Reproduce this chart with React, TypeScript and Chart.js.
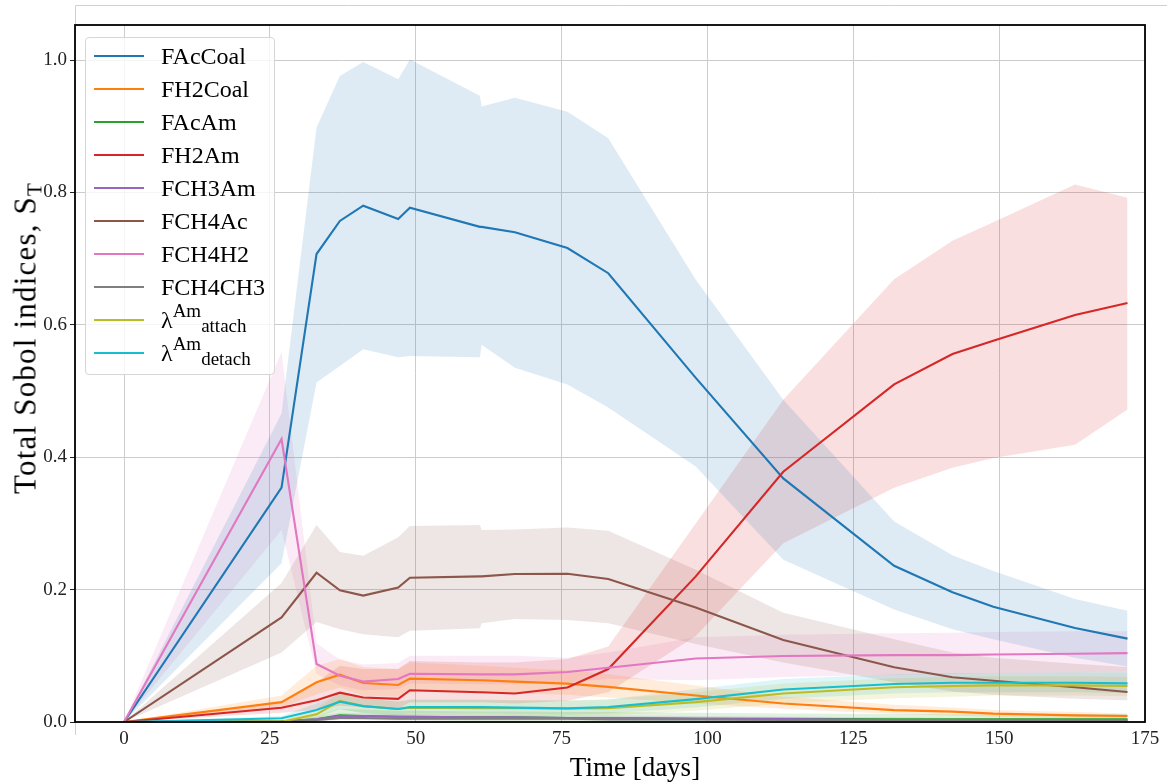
import React, { useEffect, useRef } from "react";
import { Chart, registerables } from "chart.js";

Chart.register(...registerables);

// ---- data ----
const days = [0, 27, 33, 37, 41, 47, 49, 61, 61.3, 67, 76, 83, 98, 113, 132, 142, 149, 163, 172];

const xTicks = [0, 25, 50, 75, 100, 125, 150, 175];
const yTicks = [0.0, 0.2, 0.4, 0.6, 0.8, 1.0];

const seriesNames = ["FAcCoal", "FH2Coal", "FAcAm", "FH2Am", "FCH3Am", "FCH4Ac", "FCH4H2", "FCH4CH3", "λ^Am_attach", "λ^Am_detach"];
const seriesColors = ["#1f77b4", "#ff7f0e", "#2ca02c", "#d62728", "#9467bd", "#8c564b", "#e377c2", "#7f7f7f", "#bcbd22", "#17becf"];

const fAcCoal = [0, 0.354, 0.707, 0.757, 0.780, 0.760, 0.777, 0.748, 0.748, 0.740, 0.716, 0.678, 0.520, 0.368, 0.236, 0.196, 0.174, 0.142, 0.126];
const fAcCoalHi = [0, 0.466, 0.898, 0.976, 0.997, 0.971, 1.001, 0.946, 0.930, 0.943, 0.922, 0.882, 0.668, 0.487, 0.303, 0.252, 0.228, 0.186, 0.168];
const fAcCoalLo = [0, 0.240, 0.513, 0.538, 0.563, 0.551, 0.553, 0.551, 0.570, 0.535, 0.510, 0.475, 0.386, 0.245, 0.170, 0.140, 0.125, 0.097, 0.084];

const fH2Coal = [0, 0.030, 0.060, 0.0715, 0.059, 0.056, 0.0655, 0.063, 0.063, 0.061, 0.058, 0.053, 0.040, 0.028, 0.018, 0.0156, 0.0126, 0.010, 0.009];
const fH2CoalHi = [0, 0.040, 0.085, 0.095, 0.083, 0.080, 0.090, 0.085, 0.085, 0.082, 0.078, 0.072, 0.055, 0.038, 0.026, 0.022, 0.018, 0.015, 0.013];
const fH2CoalLo = [0, 0.022, 0.042, 0.052, 0.040, 0.038, 0.046, 0.045, 0.045, 0.043, 0.041, 0.037, 0.028, 0.020, 0.012, 0.010, 0.008, 0.006, 0.006];

const fAcAm = [0, 0.001, 0.004, 0.010, 0.009, 0.008, 0.008, 0.007, 0.007, 0.007, 0.006, 0.006, 0.005, 0.005, 0.004, 0.004, 0.004, 0.004, 0.004];
const fAcAmHi = [0, 0.003, 0.010, 0.020, 0.019, 0.017, 0.017, 0.016, 0.016, 0.016, 0.015, 0.015, 0.014, 0.013, 0.012, 0.012, 0.012, 0.012, 0.012];
const fAcAmLo = [0, 0, 0.001, 0.004, 0.003, 0.003, 0.003, 0.002, 0.002, 0.002, 0.002, 0.002, 0.001, 0.001, 0.001, 0.001, 0.001, 0.001, 0.001];

const fH2Am = [0, 0.0216, 0.033, 0.0443, 0.037, 0.035, 0.048, 0.045, 0.045, 0.043, 0.052, 0.080, 0.220, 0.378, 0.510, 0.556, 0.576, 0.615, 0.633];
const fH2AmHi = [0, 0.030, 0.060, 0.085, 0.080, 0.080, 0.092, 0.090, 0.090, 0.090, 0.095, 0.114, 0.300, 0.487, 0.669, 0.727, 0.755, 0.812, 0.792];
const fH2AmLo = [0, 0.014, 0.018, 0.025, 0.022, 0.020, 0.030, 0.030, 0.030, 0.028, 0.032, 0.045, 0.130, 0.270, 0.354, 0.384, 0.399, 0.419, 0.472];

const fCH3Am = [0, 0.0005, 0.004, 0.009, 0.009, 0.008, 0.008, 0.007, 0.007, 0.007, 0.006, 0.006, 0.005, 0.0045, 0.003, 0.003, 0.0025, 0.002, 0.002];
const fCH3AmHi = [0, 0.002, 0.008, 0.014, 0.013, 0.012, 0.012, 0.011, 0.011, 0.011, 0.010, 0.010, 0.009, 0.008, 0.007, 0.006, 0.006, 0.005, 0.005];
const fCH3AmLo = [0, 0, 0.001, 0.005, 0.005, 0.004, 0.004, 0.004, 0.004, 0.004, 0.003, 0.003, 0.002, 0.002, 0.001, 0.001, 0.001, 0.0005, 0.0005];

const fCH4Ac = [0, 0.158, 0.2255, 0.199, 0.191, 0.203, 0.218, 0.220, 0.220, 0.2236, 0.224, 0.216, 0.173, 0.124, 0.0826, 0.0675, 0.0624, 0.0524, 0.0453];
const fCH4AcHi = [0, 0.210, 0.2975, 0.257, 0.251, 0.279, 0.296, 0.2975, 0.290, 0.291, 0.294, 0.289, 0.230, 0.165, 0.125, 0.105, 0.097, 0.088, 0.083];
const fCH4AcLo = [0, 0.105, 0.151, 0.140, 0.1325, 0.128, 0.138, 0.1415, 0.149, 0.1556, 0.154, 0.149, 0.118, 0.090, 0.060, 0.046, 0.041, 0.035, 0.033];

const fCH4H2 = [0, 0.4275, 0.0876, 0.070, 0.061, 0.065, 0.073, 0.072, 0.072, 0.072, 0.0755, 0.082, 0.096, 0.0997, 0.101, 0.101, 0.102, 0.103, 0.104];
const fCH4H2Hi = [0, 0.559, 0.119, 0.094, 0.087, 0.089, 0.100, 0.100, 0.100, 0.100, 0.097, 0.105, 0.128, 0.132, 0.134, 0.135, 0.136, 0.137, 0.137];
const fCH4H2Lo = [0, 0.290, 0.073, 0.055, 0.048, 0.050, 0.058, 0.057, 0.057, 0.057, 0.060, 0.065, 0.063, 0.068, 0.0715, 0.073, 0.074, 0.075, 0.076];

const fCH4CH3 = [0, 0.0005, 0.003, 0.006, 0.006, 0.005, 0.005, 0.005, 0.005, 0.005, 0.005, 0.004, 0.004, 0.003, 0.003, 0.003, 0.003, 0.003, 0.003];
const fCH4CH3Hi = [0, 0.002, 0.006, 0.010, 0.010, 0.009, 0.009, 0.009, 0.009, 0.009, 0.008, 0.008, 0.007, 0.006, 0.006, 0.006, 0.006, 0.006, 0.006];
const fCH4CH3Lo = [0, 0, 0.001, 0.003, 0.003, 0.002, 0.002, 0.002, 0.002, 0.002, 0.002, 0.002, 0.001, 0.001, 0.001, 0.001, 0.001, 0.001, 0.001];

const lamAttach = [0, 0.0005, 0.0116, 0.032, 0.024, 0.0196, 0.0215, 0.021, 0.021, 0.021, 0.0205, 0.021, 0.030, 0.043, 0.0524, 0.0544, 0.0554, 0.0554, 0.0544];
const lamAttachHi = [0, 0.002, 0.020, 0.045, 0.036, 0.031, 0.033, 0.033, 0.033, 0.033, 0.033, 0.034, 0.045, 0.058, 0.066, 0.068, 0.069, 0.069, 0.068];
const lamAttachLo = [0, 0, 0.005, 0.020, 0.013, 0.010, 0.011, 0.010, 0.010, 0.010, 0.010, 0.010, 0.017, 0.028, 0.036, 0.038, 0.040, 0.040, 0.039];

const lamDetach = [0, 0.0056, 0.018, 0.0307, 0.024, 0.0196, 0.0227, 0.0225, 0.0225, 0.0217, 0.0206, 0.0227, 0.0345, 0.049, 0.0574, 0.0594, 0.0594, 0.0594, 0.0584];
const lamDetachHi = [0, 0.009, 0.028, 0.043, 0.035, 0.031, 0.034, 0.034, 0.034, 0.033, 0.032, 0.034, 0.050, 0.065, 0.072, 0.074, 0.074, 0.075, 0.075];
const lamDetachLo = [0, 0.003, 0.010, 0.019, 0.014, 0.011, 0.013, 0.013, 0.013, 0.012, 0.011, 0.013, 0.022, 0.035, 0.043, 0.045, 0.045, 0.045, 0.044];

const means = [fAcCoal, fH2Coal, fAcAm, fH2Am, fCH3Am, fCH4Ac, fCH4H2, fCH4CH3, lamAttach, lamDetach];
const uppers = [fAcCoalHi, fH2CoalHi, fAcAmHi, fH2AmHi, fCH3AmHi, fCH4AcHi, fCH4H2Hi, fCH4CH3Hi, lamAttachHi, lamDetachHi];
const lowers = [fAcCoalLo, fH2CoalLo, fAcAmLo, fH2AmLo, fCH3AmLo, fCH4AcLo, fCH4H2Lo, fCH4CH3Lo, lamAttachLo, lamDetachLo];

// ---- helpers ----
const FONT = '"Liberation Serif", "DejaVu Serif", serif';

function rgba(hex: string, a: number) {
  const n = parseInt(hex.slice(1), 16);
  return `rgba(${(n >> 16) & 255},${(n >> 8) & 255},${n & 255},${a})`;
}
const pts = (ys: number[]) => days.map((x, i) => ({ x, y: ys[i] }));

const framePlugin = {
  id: "frame",
  beforeDraw(chart: any) {
    const { ctx, chartArea } = chart;
    ctx.save();
    ctx.fillStyle = "#ffffff";
    ctx.fillRect(0, 0, chart.width, chart.height);
    ctx.strokeStyle = "#d0d0d0";
    ctx.lineWidth = 1;
    ctx.beginPath();
    ctx.moveTo(chartArea.left + 0.5, chartArea.bottom + 13);
    ctx.lineTo(chartArea.left + 0.5, 5.5);
    ctx.lineTo(chart.width, 5.5);
    ctx.stroke();
    ctx.restore();
  },
  afterDatasetsDraw(chart: any) {
    const { ctx, chartArea } = chart;
    ctx.save();
    ctx.strokeStyle = "#000000";
    ctx.lineWidth = 1.8;
    ctx.strokeRect(chartArea.left, chartArea.top, chartArea.right - chartArea.left, chartArea.bottom - chartArea.top);
    ctx.restore();
  },
};

function LegendLabel({ text }: { text: string }) {
  const m = text.match(/^(.*)\^(\w+)_(\w+)$/);
  if (!m) return <>{text}</>;
  return (
    <>
      {m[1]}
      <span style={{ fontSize: 19, position: "relative", top: -11 }}>{m[2]}</span>
      <span style={{ fontSize: 19, position: "relative", top: 4 }}>{m[3]}</span>
    </>
  );
}

export default function App() {
  const canvasRef = useRef<HTMLCanvasElement>(null);

  useEffect(() => {
    const canvas = canvasRef.current;
    if (!canvas) return;

    const bandSets = means.flatMap((_, i) => [
      {
        data: pts(uppers[i]),
        borderWidth: 0,
        borderColor: "rgba(0,0,0,0)",
        pointRadius: 0,
        fill: "+1",
        backgroundColor: rgba(seriesColors[i], 0.15),
        order: 100,
        tension: 0,
      },
      {
        data: pts(lowers[i]),
        borderWidth: 0,
        borderColor: "rgba(0,0,0,0)",
        pointRadius: 0,
        fill: false,
        order: 100,
        tension: 0,
      },
    ]);
    const lineSets = means.map((m, i) => ({
      label: seriesNames[i],
      data: pts(m),
      borderColor: seriesColors[i],
      backgroundColor: seriesColors[i],
      borderWidth: 2.1,
      pointRadius: 0,
      fill: false,
      order: 10 - i,
      tension: 0,
    }));

    const chart = new Chart(canvas, {
      type: "line",
      data: { datasets: [...bandSets, ...lineSets] as any },
      options: {
        responsive: false,
        animation: false,
        events: [],
        layout: { padding: { left: 0, top: 25, right: 22, bottom: 0 } },
        plugins: {
          legend: { display: false },
          tooltip: { enabled: false },
          filler: { drawTime: "beforeDatasetsDraw", propagate: false },
        } as any,
        scales: {
          x: {
            type: "linear",
            min: -8.4,
            max: 175,
            afterFit: (s: any) => {
              s.height = 61;
            },
            afterBuildTicks: (s: any) => {
              s.ticks = xTicks.map((v) => ({ value: v }));
            },
            ticks: {
              font: { family: FONT, size: 19 },
              color: "#222",
              padding: 6,
              maxRotation: 0,
              autoSkip: false,
            },
            grid: { color: "#cccccc", lineWidth: 1, drawTicks: false },
            border: { display: false },
          },
          y: {
            type: "linear",
            min: 0,
            max: 1.053,
            afterFit: (s: any) => {
              s.width = 75;
            },
            afterBuildTicks: (s: any) => {
              s.ticks = yTicks.map((v) => ({ value: v }));
            },
            ticks: {
              font: { family: FONT, size: 19 },
              color: "#222",
              padding: 3,
              callback: (v: any) => Number(v).toFixed(1),
            },
            grid: { color: "#cccccc", lineWidth: 1, tickLength: 5, tickColor: "#222" },
            border: { display: false },
          },
        },
      } as any,
      plugins: [framePlugin],
    });

    return () => chart.destroy();
  }, []);

  return (
    <div style={{ position: "fixed", left: 0, top: 0, width: 1167, height: 783, background: "#fff", overflow: "hidden" }}>
      <canvas ref={canvasRef} width={1167} height={783} style={{ display: "block" }} />
      {/* y-axis title */}
      <div
        style={{
          position: "absolute",
          left: 25,
          top: 338,
          transform: "translate(-50%, -50%) rotate(-90deg)",
          whiteSpace: "nowrap",
          fontFamily: FONT,
          fontSize: 31,
          letterSpacing: 1.2,
          lineHeight: 1,
          color: "#000",
        }}
      >
        Total Sobol indices, S<span style={{ fontSize: 21, position: "relative", top: 6 }}>T</span>
      </div>
      {/* x-axis title */}
      <div
        style={{
          position: "absolute",
          left: 635,
          top: 767,
          transform: "translate(-50%, -50%)",
          whiteSpace: "nowrap",
          fontFamily: FONT,
          fontSize: 27,
          lineHeight: 1,
          color: "#000",
        }}
      >
        Time [days]
      </div>
      {/* legend */}
      <div
        style={{
          position: "absolute",
          left: 85,
          top: 37,
          width: 190,
          height: 338,
          boxSizing: "border-box",
          border: "1px solid #d6d6d6",
          borderRadius: 4,
          background: "rgba(255,255,255,0.8)",
          fontFamily: FONT,
          fontSize: 24,
          color: "#000",
        }}
      >
        {seriesNames.map((name, i) => (
          <div key={name} style={{ position: "absolute", left: 0, top: 1.5 + 33 * i, height: 33, width: "100%" }}>
            <div
              style={{
                position: "absolute",
                left: 8,
                top: 15.25,
                width: 50,
                height: 2.5,
                background: seriesColors[i],
              }}
            />
            <div style={{ position: "absolute", left: 75, top: 0, height: 33, lineHeight: "33px", whiteSpace: "nowrap" }}>
              <LegendLabel text={name} />
            </div>
          </div>
        ))}
      </div>
    </div>
  );
}
